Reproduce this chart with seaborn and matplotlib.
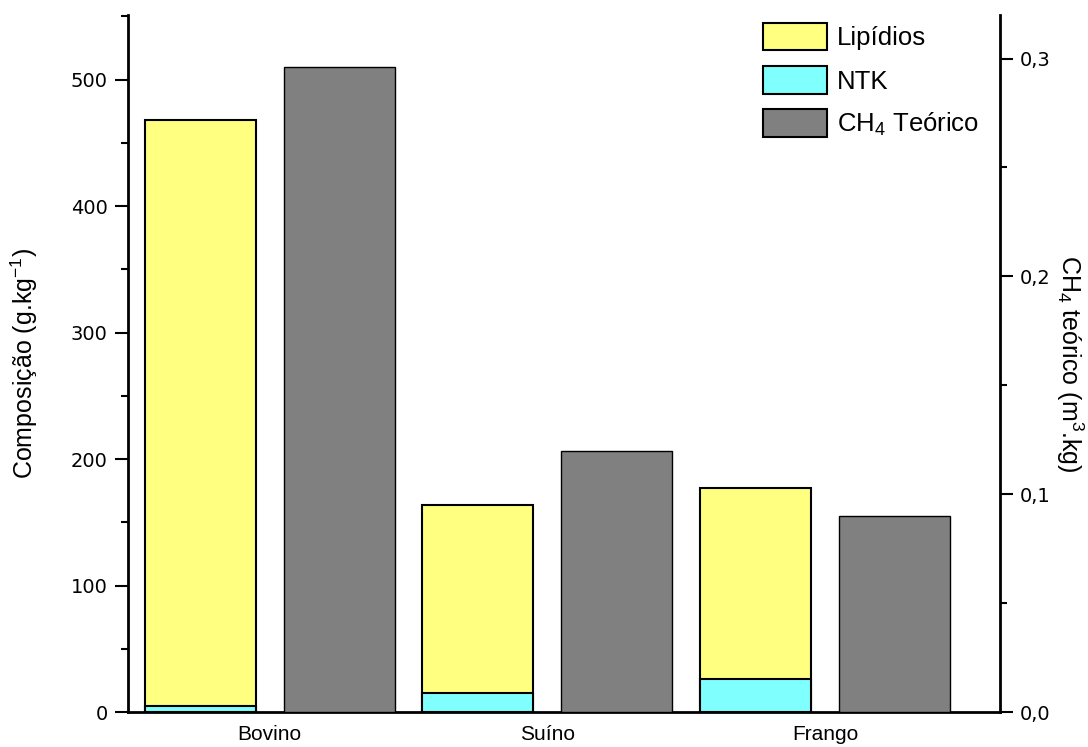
import numpy as np
import pandas as pd
import seaborn as sns
import matplotlib.pyplot as plt
from matplotlib.patches import Patch
from matplotlib.ticker import MultipleLocator, FuncFormatter

# =========================
# DATA
# =========================
categorias = ["Bovino", "Suíno", "Frango"]
ntk = [5, 15, 26]                  # g/kg
lipidios = [463, 149, 151]         # g/kg (stacked above NTK)
ch4_teorico = [0.296, 0.120, 0.090]  # m3/kg

series = ["Lipídios", "CH4"]
cor_lip = "#FFFF80"
cor_ntk = "#80FFFF"
cor_ch4 = "#808080"

# =========================
# STYLE
# =========================
sns.set_theme(style="ticks", rc={
    "text.color": "black",
    "axes.labelcolor": "black",
    "axes.edgecolor": "black",
    "xtick.color": "black",
    "ytick.color": "black",
})
plt.rcParams["font.family"] = ["Liberation Sans", "DejaVu Sans"]
plt.rcParams["mathtext.fontset"] = "custom"
plt.rcParams["mathtext.rm"] = "Liberation Sans"
plt.rcParams["mathtext.it"] = "Liberation Sans"
plt.rcParams["mathtext.default"] = "regular"

n = len(categorias)
total_lip = [a + b for a, b in zip(ntk, lipidios)]

df_lip = pd.DataFrame({
    "categoria": categorias * 2,
    "serie": ["Lipídios"] * n + ["CH4"] * n,
    "valor": total_lip + [np.nan] * n,
})
df_ntk = pd.DataFrame({
    "categoria": categorias * 2,
    "serie": ["Lipídios"] * n + ["CH4"] * n,
    "valor": ntk + [np.nan] * n,
})
df_ch4 = pd.DataFrame({
    "categoria": categorias * 2,
    "serie": ["Lipídios"] * n + ["CH4"] * n,
    "valor": [np.nan] * n + ch4_teorico,
})

fig = plt.figure(figsize=(10.88, 7.47), dpi=100)
ax = fig.add_axes([128 / 1088, 35 / 747, 872 / 1088, 697 / 747])
ax2 = ax.twinx()

opts = dict(x="categoria", y="valor", hue="serie", hue_order=series,
            order=categorias, width=1.0, gap=0.2, saturation=1,
            errorbar=None, legend=False, edgecolor="black")

sns.barplot(data=df_lip, palette={"Lipídios": cor_lip, "CH4": cor_ch4},
            linewidth=1.5, ax=ax, **opts)
sns.barplot(data=df_ntk, palette={"Lipídios": cor_ntk, "CH4": cor_ch4},
            linewidth=1.5, ax=ax, **opts)
sns.barplot(data=df_ch4, palette={"Lipídios": cor_lip, "CH4": cor_ch4},
            linewidth=1.0, ax=ax2, **opts)

# =========================
# AXES
# =========================
ax.set_xlim(-0.51, 2.63)
ax.set_ylim(0, 551)
ax2.set_ylim(0, 0.32)

ax.yaxis.set_major_locator(MultipleLocator(100))
ax.yaxis.set_minor_locator(MultipleLocator(50))
ax2.yaxis.set_major_locator(MultipleLocator(0.1))
ax2.yaxis.set_minor_locator(MultipleLocator(0.05))
ax2.yaxis.set_major_formatter(FuncFormatter(lambda v, p: f"{v:.1f}".replace(".", ",")))

for a in (ax, ax2):
    a.tick_params(axis="y", which="major", length=9.5, width=1.5,
                  labelsize=14, direction="out", pad=5)
    a.tick_params(axis="y", which="minor", length=5, width=1.5, direction="out")
    for lab in a.get_yticklabels():
        lab.set_fontfamily("DejaVu Sans")
    for s in a.spines.values():
        s.set_linewidth(2)

ax.tick_params(axis="x", length=0, labelsize=15, pad=9)
ax.set_xlabel("")
ax2.set_xlabel("")

ax.spines["top"].set_visible(False)
ax.spines["right"].set_visible(False)
ax2.spines["top"].set_visible(False)
ax2.spines["left"].set_visible(False)
ax2.spines["bottom"].set_visible(False)

ax.set_ylabel("Composição (g.kg$^{-1}$)", fontsize=18, labelpad=22)
ax2.set_ylabel("CH$_4$ teórico (m$^3$.kg)", fontsize=18, rotation=270, labelpad=25)

# =========================
# LEGEND
# =========================
handles = [
    Patch(facecolor=cor_lip, edgecolor="black", linewidth=1.5, label="Lipídios"),
    Patch(facecolor=cor_ntk, edgecolor="black", linewidth=1.5, label="NTK"),
    Patch(facecolor=cor_ch4, edgecolor="black", linewidth=1.5, label="CH$_4$ Teórico"),
]
ax2.legend(handles=handles, loc="upper left", bbox_to_anchor=(0.716, 1.003),
           frameon=False, fontsize=18.5, handlelength=2.5, handleheight=1.25,
           handletextpad=0.38, labelspacing=0.62, borderaxespad=0.0)

fig.savefig("out.png", dpi=100)
